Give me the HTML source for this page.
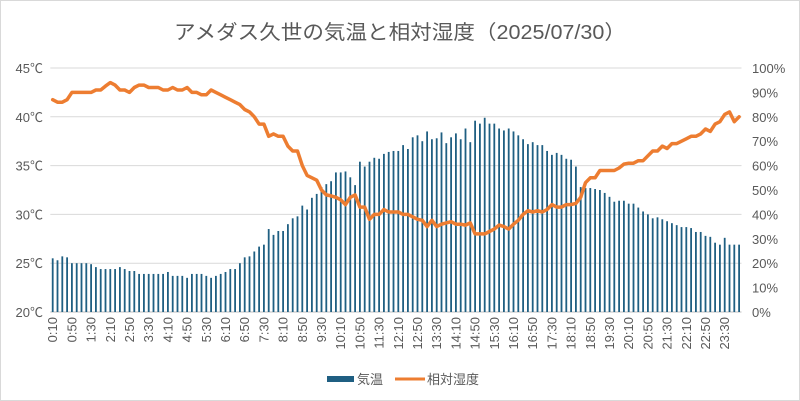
<!DOCTYPE html>
<html><head><meta charset="utf-8"><style>
html,body{margin:0;padding:0;background:#fff;}
svg{display:block;font-family:"Liberation Sans","Noto Sans CJK JP",sans-serif;}
</style></head><body>
<svg id="c" width="800" height="401" viewBox="0 0 800 401" xmlns="http://www.w3.org/2000/svg">
<rect x="0.5" y="0.5" width="799" height="400" fill="#fff" stroke="#d9d9d9"/>
<text x="400" y="39" text-anchor="middle" font-size="20" textLength="452" lengthAdjust="spacingAndGlyphs" fill="#595959">アメダス久世の気温と相対湿度（2025/07/30）</text>
<g id="grid"></g><g id="bars"></g><g id="line"></g><g id="labels" fill="#595959" font-size="13"></g>
<rect x="327" y="376" width="27" height="6" fill="#1f5f82"/>
<text x="357" y="384" font-size="13" fill="#595959">気温</text>
<line x1="395" y1="379" x2="425" y2="379" stroke="#ed7d31" stroke-width="3"/>
<text x="427" y="384" font-size="13" fill="#595959">相対湿度</text>
</svg>
<script>
var T=[25.5,25.3,25.7,25.6,25.0,25.0,25.0,25.0,24.9,24.6,24.4,24.4,24.4,24.4,24.6,24.4,24.2,24.2,23.9,23.9,23.9,23.9,23.9,23.9,24.1,23.7,23.7,23.7,23.5,23.9,23.9,23.9,23.7,23.5,23.7,23.9,24.1,24.4,24.4,25.0,25.6,25.7,26.2,26.7,26.9,28.5,27.9,28.3,28.3,29.0,29.6,29.8,30.9,30.5,31.7,32.1,32.8,33.1,33.4,34.3,34.3,34.4,33.8,33.0,35.4,34.9,35.4,35.8,35.7,36.2,36.4,36.5,36.5,37.1,36.7,37.9,38.1,37.5,38.5,37.7,37.8,38.4,37.3,37.9,38.3,37.7,38.8,37.4,39.6,39.3,39.9,39.3,39.3,38.8,38.6,38.8,38.5,38.1,37.7,37.2,37.4,37.1,37.1,36.5,36.1,36.3,36.1,35.7,35.6,34.9,32.8,32.7,32.7,32.6,32.5,32.2,31.8,31.3,31.4,31.4,31.1,31.1,30.7,30.3,30.0,29.6,29.7,29.5,29.3,29.1,28.9,28.7,28.7,28.6,28.2,28.2,27.8,27.7,27.1,26.9,27.6,26.9,26.9,26.9];
var H=[87,86,86,87,90,90,90,90,90,91,91,92.6,94,93,91,91,90,92,93,93,92,92,92,91,91,92,91,91,92,90,90,89,89,91,90,89,88,87,86,85,83,82,80,77,77,72,73,72,72,68,66,66,60,56,55,54,50,48,47.6,47,46,44,47,48,43,43,38,40,40,42,41,41,41,40,40,39,38,37.6,35,37.6,35,36,36.5,37,36,36,35.6,36.5,32,32,32,33,34,35.6,35,34,36,37.6,40,41.5,41,41.5,41,42,44,43,43,44,44,44.5,47,53,55,55,58,58,58,58,59,60.6,61,61,62,62,64,66,66,68,67,69,69,70,71,72,72,73,75,74,77,78,81,82,78,80];
var NS="http://www.w3.org/2000/svg";
function el(p,n,a,t){var e=document.createElementNS(NS,n);for(var k in a)e.setAttribute(k,a[k]);if(t)e.textContent=t;document.getElementById(p).appendChild(e);}
var L=50.3,R=741.5,Y0=312,step=(R-L)/144;
for(var i=0;i<=5;i++){var y=Y0-i*48.8;
 el('grid','line',{x1:L,x2:R,y1:y,y2:y,stroke:i==0?'#bfbfbf':'#d9d9d9','stroke-width':1});
 el('labels','text',{x:43,y:y+5,'text-anchor':'end'},(20+5*i)+'℃');}
for(var i=0;i<=10;i++){var y=Y0-i*24.4;el('labels','text',{x:752,y:y+5},(i*10)+'%');}
var pts=[];
for(var i=0;i<144;i++){var cx=L+step*(i+0.5);var h=(T[i]-20)*9.76;
 el('bars','rect',{x:cx-0.9,y:Y0-h,width:1.8,height:h,fill:'#1f5f82'});
 pts.push(cx.toFixed(1)+','+(Y0-H[i]*2.44).toFixed(1));
 if(i%4==0){var m=(i+1)*10,lab=Math.floor(m/60)+':'+('0'+m%60).slice(-2);
  el('labels','text',{transform:'translate('+(cx+4.5)+',317) rotate(-90)','text-anchor':'end'},lab);}}
el('line','polyline',{points:pts.join(' '),fill:'none',stroke:'#ed7d31','stroke-width':3.5,'stroke-linejoin':'round','stroke-linecap':'round'});
</script>
</body></html>
